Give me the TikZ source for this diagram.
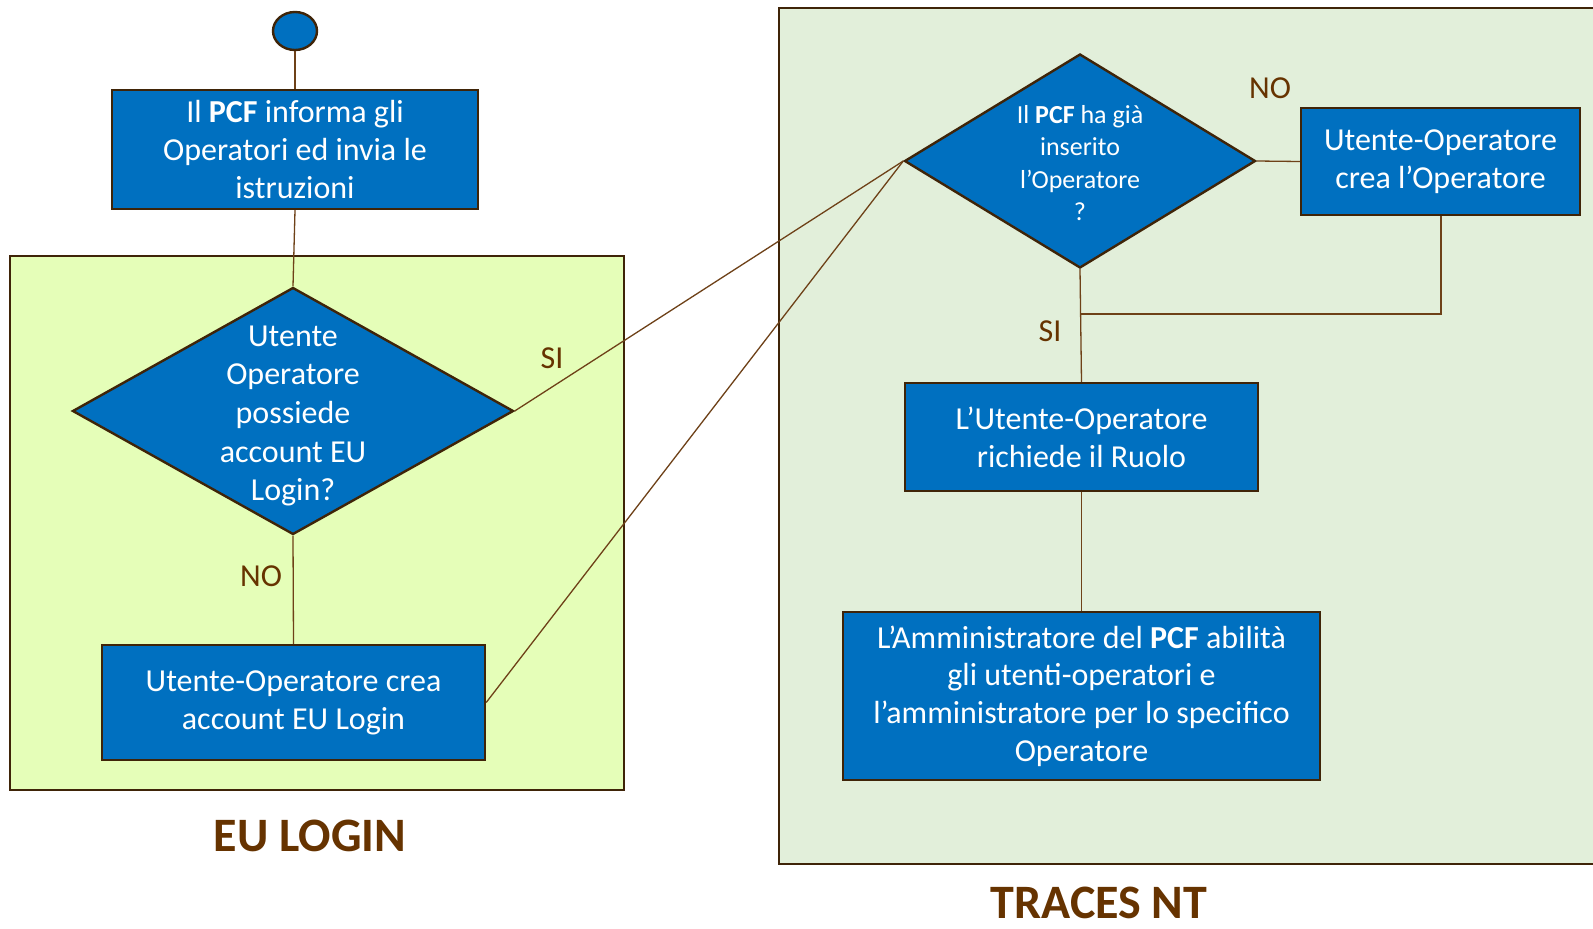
\documentclass[tikz,border=0pt]{standalone}
\usepackage{fontspec}
\setmainfont{Carlito}
\usetikzlibrary{shapes.geometric}

\definecolor{boxblue}{HTML}{0070C0}
\definecolor{edgebrown}{HTML}{3F2408}
\definecolor{linebrown}{HTML}{6E4118}
\definecolor{labelbrown}{HTML}{663300}
\definecolor{loginfill}{HTML}{E5FEB8}
\definecolor{tracesfill}{HTML}{E2EFDA}

\tikzset{
  stepbox/.style={draw=edgebrown, line width=2.4pt, fill=boxblue, text=white, align=center,
    inner sep=0pt, font=\fontsize{32}{37.8}\selectfont},
  choice/.style={diamond, draw=edgebrown, line width=2.4pt, fill=boxblue, inner sep=0pt},
  choicetext/.style={text=white, align=center},
  link/.style={draw=linebrown, line width=1.3pt},
  answer/.style={text=labelbrown, font=\fontsize{32}{36}\selectfont},
  panel/.style={draw=edgebrown, line width=2.4pt},
  title/.style={text=labelbrown, font=\fontsize{48}{54}\selectfont\bfseries}
}

\begin{document}
\begin{tikzpicture}[x=1pt,y=-1pt]
    \clip (0,0) rectangle (1593,929);
    \fill[white] (0,0) rectangle (1593,929);

    % the two areas
    \draw[panel, fill=loginfill] (10,256) rectangle (624,790);
    \draw[panel, fill=tracesfill] (779,8) rectangle (1620,864);
    \node[title] (eulogin) at (310,836) {EU LOGIN};
    \node[title] (traces) at (1099,903) {TRACES NT};

    % EU Login side
    \node[ellipse, draw=edgebrown, line width=2.4pt, fill=boxblue, minimum width=44pt, minimum height=38pt] (start) at (295,31) {};
    \node[stepbox, minimum width=366pt, minimum height=119pt] (informa) at (295,149.5)
        {Il \textbf{PCF} informa gli\\Operatori ed invia le\\istruzioni};
    \node[choice, minimum width=441pt, minimum height=247pt] (possiede) at (293,411) {};
    \node[choicetext, font=\fontsize{32}{38.6}\selectfont] at ([yshift=-5pt]possiede.center)
        {Utente\\Operatore\\possiede\\account EU\\Login?};
    \node[stepbox, minimum width=383pt, minimum height=115pt] (creaaccount) at (293.5,702.5)
        {Utente-Operatore crea\\account EU Login};

    % TRACES NT side
    \node[choice, minimum width=351pt, minimum height=214pt] (inserito) at (1080,161) {};
    \node[choicetext, font=\fontsize{26}{32.5}\selectfont] at ([yshift=-2pt]inserito.center)
        {Il \textbf{PCF} ha già\\inserito\\l’Operatore\\?};
    \node[stepbox, minimum width=279pt, minimum height=107pt] (creaop) at (1440.5,161.5)
        {Utente-Operatore\\crea l’Operatore};
    \node[stepbox, minimum width=353pt, minimum height=108pt] (ruolo) at (1081.5,437)
        {L’Utente-Operatore\\richiede il Ruolo};
    \node[stepbox, minimum width=477pt, minimum height=168pt] (abilita) at (1081.5,696)
        {L’Amministratore del \textbf{PCF} abilità\\gli utenti-operatori e\\l’amministratore per lo specifico\\Operatore};
    \coordinate (join) at (1081,314);

    % connectors
    \draw[link] (start) -- (informa);
    \draw[link] (informa.south) -- (possiede.north);
    \draw[link] (possiede.south) -- (creaaccount.north);
    \draw[link] (possiede.east) -- (inserito.west);
    \draw[link] (creaaccount.east) -- (inserito.west);
    \draw[link] (inserito.east) -- (creaop.west);
    \draw[link] (inserito.south) -- (ruolo.north);
    \draw[link, line width=2pt] (creaop.south) |- (join);
    \draw[link] (ruolo.south) -- (abilita.north);

    % answers
    \node[answer] (si1) at (552,358) {SI};
    \node[answer] (no1) at (261,576) {NO};
    \node[answer] (no2) at (1270,88) {NO};
    \node[answer] (si2) at (1050,331) {SI};
\end{tikzpicture}
\end{document}
